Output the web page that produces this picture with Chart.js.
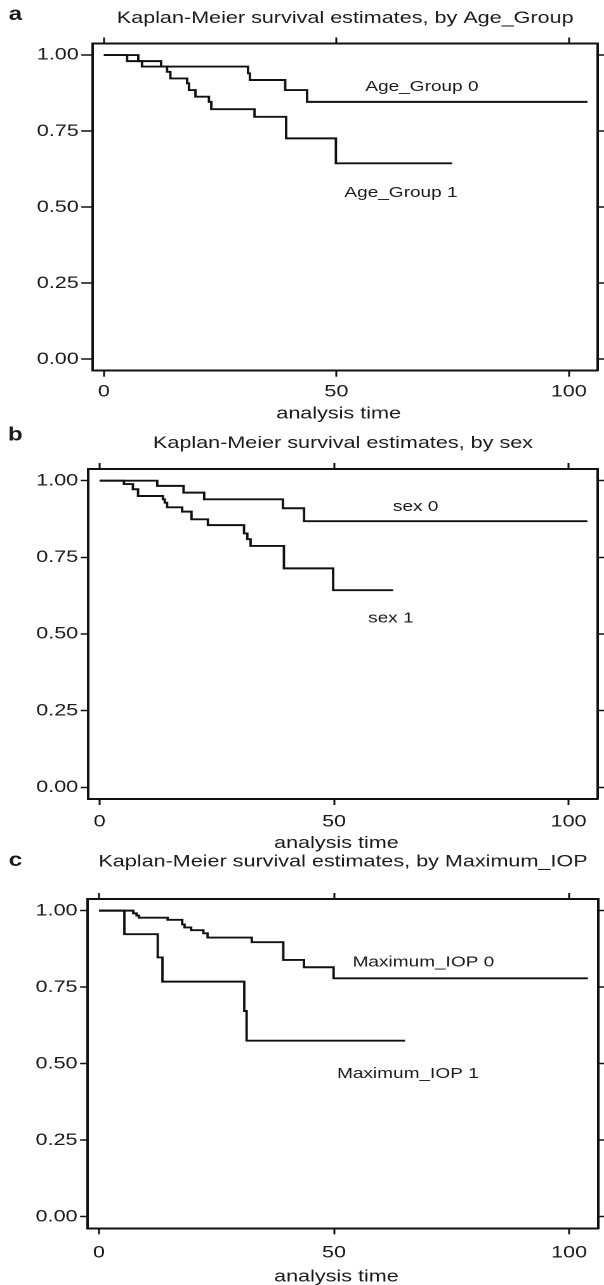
<!DOCTYPE html>
<html>
<head>
<meta charset="utf-8">
<title>Kaplan-Meier survival estimates</title>
<script src="https://cdn.jsdelivr.net/npm/chart.js@4.4.1/dist/chart.umd.min.js"></script>
<style>
html, body { margin: 0; padding: 0; background: #fff; overflow: hidden; }
#page { position: relative; width: 604px; height: 1285px; }
/* the original figure is stretched sideways, so each chart is drawn narrow and widened */
.panel { position: absolute; left: 0; transform-origin: 0 0; transform: scaleX(1.26891); }
</style>
</head>
<body>
<div id="page">
  <div class="panel" style="top:0px"><canvas id="chartA" width="476" height="435"></canvas></div>
  <div class="panel" style="top:425px"><canvas id="chartB" width="476" height="435"></canvas></div>
  <div class="panel" style="top:850px"><canvas id="chartC" width="476" height="435"></canvas></div>
</div>
<script>
// tick labels shared by the three panels
var xTicks = [0, 50, 100];
var yTicks = [0, 0.25, 0.5, 0.75, 1];

// a - by Age_Group (time of each drop, survival after it; last entry = end of follow-up)
var ageTime0 = [0, 5.0, 12.3, 31.0, 31.4, 39.0, 43.7, 104];
var ageSurv0 = [1, 0.980, 0.962, 0.940, 0.918, 0.885, 0.846, 0.846];
var ageTime1 = [0, 7.4, 8.2, 13.6, 14.3, 17.9, 18.3, 19.7, 22.6, 23.1, 32.4, 39.2, 49.9, 74.9];
var ageSurv1 = [1, 0.980, 0.962, 0.945, 0.923, 0.907, 0.885, 0.863, 0.846, 0.822, 0.797, 0.726, 0.644, 0.644];

// b - by sex
var sexTime0 = [0, 12.3, 17.9, 22.3, 39.1, 43.6, 104];
var sexSurv0 = [1, 0.983, 0.961, 0.939, 0.910, 0.868, 0.868];
var sexTime1 = [0, 5.2, 7.1, 8.2, 13.5, 13.9, 14.4, 17.6, 19.6, 23.1, 30.8, 31.5, 32.2, 39.3, 49.8, 62.6];
var sexSurv1 = [1, 0.989, 0.972, 0.950, 0.939, 0.928, 0.913, 0.899, 0.874, 0.855, 0.828, 0.809, 0.787, 0.714, 0.643, 0.643];

// c - by Maximum_IOP
var iopTime0 = [0, 7.3, 8.0, 8.5, 14.6, 17.7, 18.2, 19.6, 22.2, 23.1, 32.5, 39.2, 43.6, 49.9, 104];
var iopSurv0 = [1, 0.991, 0.984, 0.977, 0.970, 0.955, 0.945, 0.936, 0.926, 0.912, 0.897, 0.839, 0.815, 0.779, 0.779];
var iopTime1 = [0, 5.4, 12.5, 13.5, 30.9, 31.4, 65.1];
var iopSurv1 = [1, 0.923, 0.847, 0.768, 0.672, 0.575, 0.575];

var FONT = "'Liberation Sans', Arial, Helvetica, sans-serif";
var INK = '#111';
var TEXT = '#1a1a1a';
var CW = 476, CH = 435;

Chart.defaults.font.family = FONT;
Chart.defaults.font.size = 17;
Chart.defaults.color = TEXT;

function km(times, surv) {
	return times.map(function (t, i) { return {x: t, y: surv[i]}; });
}

function curve(times, surv) {
	return {
		data: km(times, surv),
		stepped: 'before',
		borderColor: INK,
		borderWidth: 1.9,
		pointRadius: 0,
		fill: false
	};
}

function axis(position, min, max, values, size, tickLen, showLabels, pad, fmt) {
	return {
		type: 'linear',
		position: position,
		min: min,
		max: max,
		afterBuildTicks: function (s) { s.ticks = values.map(function (v) { return {value: v}; }); },
		afterFit: function (s) { if (s.isHorizontal()) s.height = size; else s.width = size; },
		grid: {drawOnChartArea: false, drawTicks: true, tickLength: tickLen, tickColor: INK, tickWidth: 1.5},
		border: {display: true, color: INK, width: 2},
		ticks: {display: showLabels, padding: pad, color: TEXT, autoSkip: false, maxRotation: 0, callback: fmt}
	};
}

function makePanel(id, p) {
	// texts that Stata places freely: panel letter, title, axis title, curve labels
	var textPlugin = {
		id: 'kmText',
		afterDraw: function (chart) {
			var ctx = chart.ctx, area = chart.chartArea, sx = chart.scales.x, sy = chart.scales.y;
			ctx.save();
			ctx.fillStyle = TEXT;
			ctx.textAlign = 'center';
			ctx.textBaseline = 'middle';
			ctx.font = 'bold 19px ' + FONT;
			ctx.fillText(p.letter, 12.1, p.letterY);
			ctx.font = '17px ' + FONT;
			ctx.fillText(p.title, (area.left + area.right) / 2, p.titleY);
			ctx.fillText('analysis time', sx.getPixelForValue(50.5), p.axisTitleY);
			ctx.font = '15px ' + FONT;
			p.labels.forEach(function (l) {
				ctx.fillText(l.text, sx.getPixelForValue(l.x), sy.getPixelForValue(l.y));
			});
			ctx.restore();
		}
	};

	new Chart(document.getElementById(id), {
		type: 'line',
		data: {datasets: p.datasets},
		options: {
			responsive: false,
			animation: false,
			devicePixelRatio: 2,
			events: [],
			layout: {padding: 0},
			plugins: {legend: {display: false}, tooltip: {enabled: false}, title: {display: false}},
			scales: {
				x: axis('bottom', -2.4, 106.2, xTicks, CH - p.bottom, 6, true, p.xPad, function (v) { return String(v); }),
				x2: axis('top', -2.4, 106.2, xTicks, p.top, 6, false, 0),
				y: axis('left', -0.038, 1.038, yTicks, p.left, p.yTick, true, 2, function (v) { return v.toFixed(2); }),
				y2: axis('right', -0.038, 1.038, yTicks, CW - p.right, 5, false, 0)
			}
		},
		plugins: [textPlugin]
	});
}

makePanel('chartA', {
	letter: 'a', letterY: 15, titleY: 18.3, axisTitleY: 413.6,
	title: 'Kaplan-Meier survival estimates, by Age_Group',
	left: 73.05, right: 471.0, top: 43.5, bottom: 370.7, yTick: 9, xPad: 5,
	datasets: [curve(ageTime0, ageSurv0), curve(ageTime1, ageSurv1)],
	labels: [{text: 'Age_Group 0', x: 68.4, y: 0.896}, {text: 'Age_Group 1', x: 63.9, y: 0.547}]
});

makePanel('chartB', {
	letter: 'b', letterY: 10.3, titleY: 18.3, axisTitleY: 418.3,
	title: 'Kaplan-Meier survival estimates, by sex',
	left: 69.6, right: 471.0, top: 44, bottom: 374, yTick: 6, xPad: 6.5,
	datasets: [curve(sexTime0, sexSurv0), curve(sexTime1, sexSurv1)],
	labels: [{text: 'sex 0', x: 67.4, y: 0.915}, {text: 'sex 1', x: 62.1, y: 0.551}]
});

makePanel('chartC', {
	letter: 'c', letterY: 11, titleY: 11.7, axisTitleY: 426.6,
	title: 'Kaplan-Meier survival estimates, by Maximum_IOP',
	left: 69.1, right: 471.5, top: 49, bottom: 378.3, yTick: 6, xPad: 8.5,
	datasets: [curve(iopTime0, iopSurv0), curve(iopTime1, iopSurv1)],
	labels: [{text: 'Maximum_IOP 0', x: 69.0, y: 0.831}, {text: 'Maximum_IOP 1', x: 65.7, y: 0.467}]
});
</script>
</body>
</html>
